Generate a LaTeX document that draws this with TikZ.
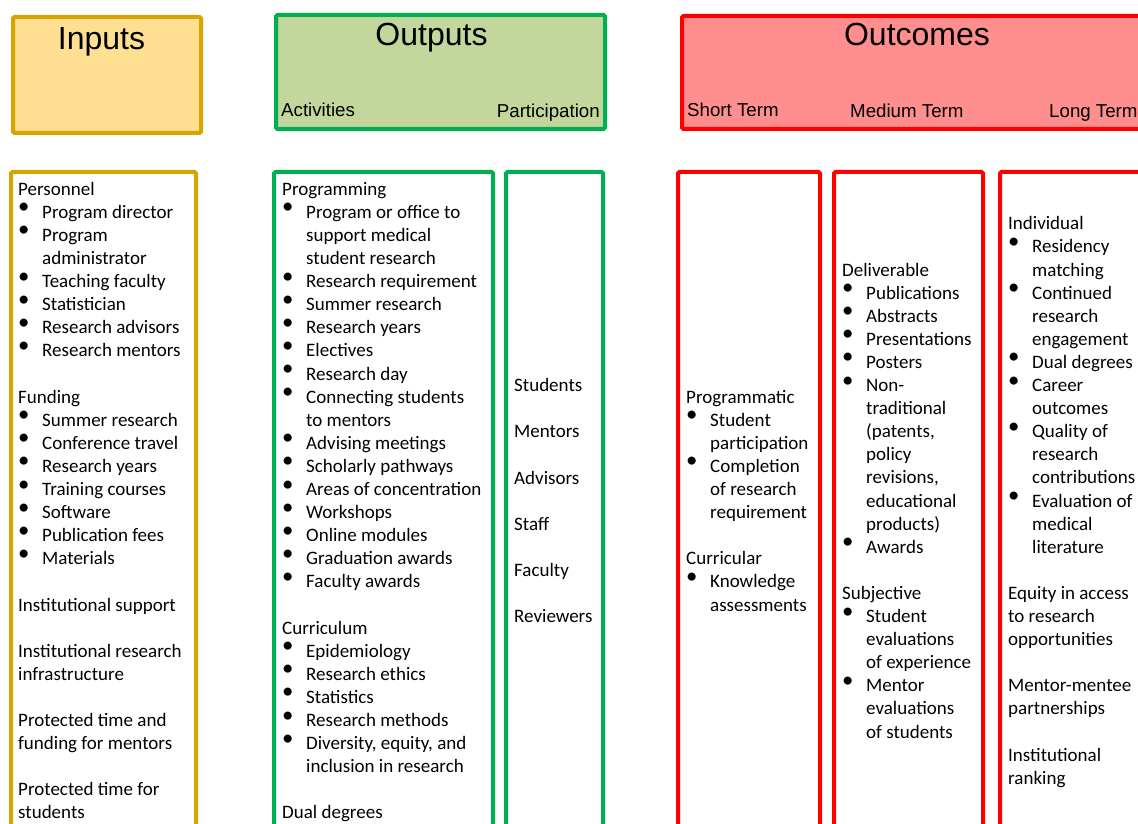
\documentclass[tikz,border=0pt]{standalone}
\usepackage{fontspec}
\usepackage{graphicx}
\setmainfont{Carlito}
\newfontfamily\headfont{Liberation Sans}

\definecolor{inline}{RGB}{216,165,0}
\definecolor{infill}{RGB}{255,223,145}
\definecolor{outline}{RGB}{0,176,80}
\definecolor{outfill}{RGB}{195,214,155}
\definecolor{ocline}{RGB}{255,0,0}
\definecolor{ocfill}{RGB}{255,142,142}

% hanging bullet items
\newlength{\bulind}\setlength{\bulind}{24pt}
\newcommand{\bi}[1]{\makebox[\bulind][l]{\smash{\raisebox{4.5pt}{\scalebox{1.2}{\textbullet}}}}#1}
\newcommand{\bc}[1]{\hspace*{\bulind}#1}

\tikzset{
  headbox/.style={line width=4pt, rounded corners=1.5pt, anchor=north west, inner sep=0pt},
  bodybox/.style={line width=4pt, rounded corners=1.5pt},
  headtitle/.style={font=\headfont\fontsize{32}{38}\selectfont, anchor=base, inner sep=0pt},
  headsub/.style={font=\headfont\fontsize{18.7}{22}\selectfont, inner sep=0pt},
  bodytext/.style={font=\fontsize{19}{23.1}\selectfont, align=left, anchor=north west, inner sep=0pt},
}

\begin{document}
\begin{tikzpicture}[x=1pt, y=-1pt]
\clip (0,0) rectangle (1138,824);
\fill[white] (0,0) rectangle (1138,824);

% ---- header boxes
\node[headbox, draw=inline, fill=infill, minimum width=188pt, minimum height=116pt] (inhead) at (11,15) {};
\node[headbox, draw=outline, fill=outfill, minimum width=329pt, minimum height=114pt] (outhead) at (274,13) {};
\node[headbox, draw=ocline, fill=ocfill, minimum width=480pt, minimum height=113pt] (ochead) at (680,14) {};

\node[headtitle] (intitle) at (101.5,50) {Inputs};
\node[headtitle] (outtitle) at (431.5,46) {Outputs};
\node[headtitle] (octitle) at (917,46) {Outcomes};

\node[headsub, anchor=base west] (acttitle) at (281,117) {Activities};
\node[headsub, anchor=base east] (parttitle) at (600,118) {Participation};
\node[headsub, anchor=base west] (shorttitle) at (687,117) {Short Term};
\node[headsub, anchor=base west] (medtitle) at (850,118) {Medium Term};
\node[headsub, anchor=base west] (longtitle) at (1049,118) {Long Term};

% ---- body columns
\draw[bodybox, draw=inline] (11,840) |- (196,172) -- (196,840);
\draw[bodybox, draw=outline] (274,840) |- (493,172) -- (493,840);
\draw[bodybox, draw=outline] (506,840) |- (603,172) -- (603,840);
\draw[bodybox, draw=ocline] (678,840) |- (820,172) -- (820,840);
\draw[bodybox, draw=ocline] (834,840) |- (983,172) -- (983,840);
\draw[bodybox, draw=ocline] (1000,840) |- (1160,172) -- (1160,840);

% ---- inputs
\node[bodytext] (intext) at (18,178.83) {\strut Personnel\\
\bi{Program director}\\
\bi{Program}\\
\bc{administrator}\\
\bi{Teaching faculty}\\
\bi{Statistician}\\
\bi{Research advisors}\\
\bi{Research mentors}\\[23.1pt]
Funding\\
\bi{Summer research}\\
\bi{Conference travel}\\
\bi{Research years}\\
\bi{Training courses}\\
\bi{Software}\\
\bi{Publication fees}\\
\bi{Materials}\\[23.1pt]
Institutional support\\[23.1pt]
Institutional research\\
infrastructure\\[23.1pt]
Protected time and\\
funding for mentors\\[23.1pt]
Protected time for\\
students};

% ---- activities
\node[bodytext] (acttext) at (282,178.83) {\strut Programming\\
\bi{Program or office to}\\
\bc{support medical}\\
\bc{student research}\\
\bi{Research requirement}\\
\bi{Summer research}\\
\bi{Research years}\\
\bi{Electives}\\
\bi{Research day}\\
\bi{Connecting students}\\
\bc{to mentors}\\
\bi{Advising meetings}\\
\bi{Scholarly pathways}\\
\bi{Areas of concentration}\\
\bi{Workshops}\\
\bi{Online modules}\\
\bi{Graduation awards}\\
\bi{Faculty awards}\\[23.1pt]
Curriculum\\
\bi{Epidemiology}\\
\bi{Research ethics}\\
\bi{Statistics}\\
\bi{Research methods}\\
\bi{Diversity, equity, and}\\
\bc{inclusion in research}\\[23.1pt]
Dual degrees};

% ---- participation
\node[bodytext] (parttext) at (514,375.23) {\strut Students\\[23.1pt]
Mentors\\[23.1pt]
Advisors\\[23.1pt]
Staff\\[23.1pt]
Faculty\\[23.1pt]
Reviewers};

% ---- short term
\node[bodytext] (shorttext) at (686,386.73) {\strut Programmatic\\
\bi{Student}\\
\bc{participation}\\
\bi{Completion}\\
\bc{of research}\\
\bc{requirement}\\[23.1pt]
Curricular\\
\bi{Knowledge}\\
\bc{assessments}};

% ---- medium term
\node[bodytext] (medtext) at (842,259.68) {\strut Deliverable\\
\bi{Publications}\\
\bi{Abstracts}\\
\bi{Presentations}\\
\bi{Posters}\\
\bi{Non-}\\
\bc{traditional}\\
\bc{(patents,}\\
\bc{policy}\\
\bc{revisions,}\\
\bc{educational}\\
\bc{products)}\\
\bi{Awards}\\[23.1pt]
Subjective\\
\bi{Student}\\
\bc{evaluations}\\
\bc{of experience}\\
\bi{Mentor}\\
\bc{evaluations}\\
\bc{of students}};

% ---- long term
\node[bodytext] (longtext) at (1008,213.48) {\strut Individual\\
\bi{Residency}\\
\bc{matching}\\
\bi{Continued}\\
\bc{research}\\
\bc{engagement}\\
\bi{Dual degrees}\\
\bi{Career}\\
\bc{outcomes}\\
\bi{Quality of}\\
\bc{research}\\
\bc{contributions}\\
\bi{Evaluation of}\\
\bc{medical}\\
\bc{literature}\\[23.1pt]
Equity in access\\
to research\\
opportunities\\[23.1pt]
Mentor-mentee\\
partnerships\\[23.1pt]
Institutional\\
ranking};
\end{tikzpicture}
\end{document}
